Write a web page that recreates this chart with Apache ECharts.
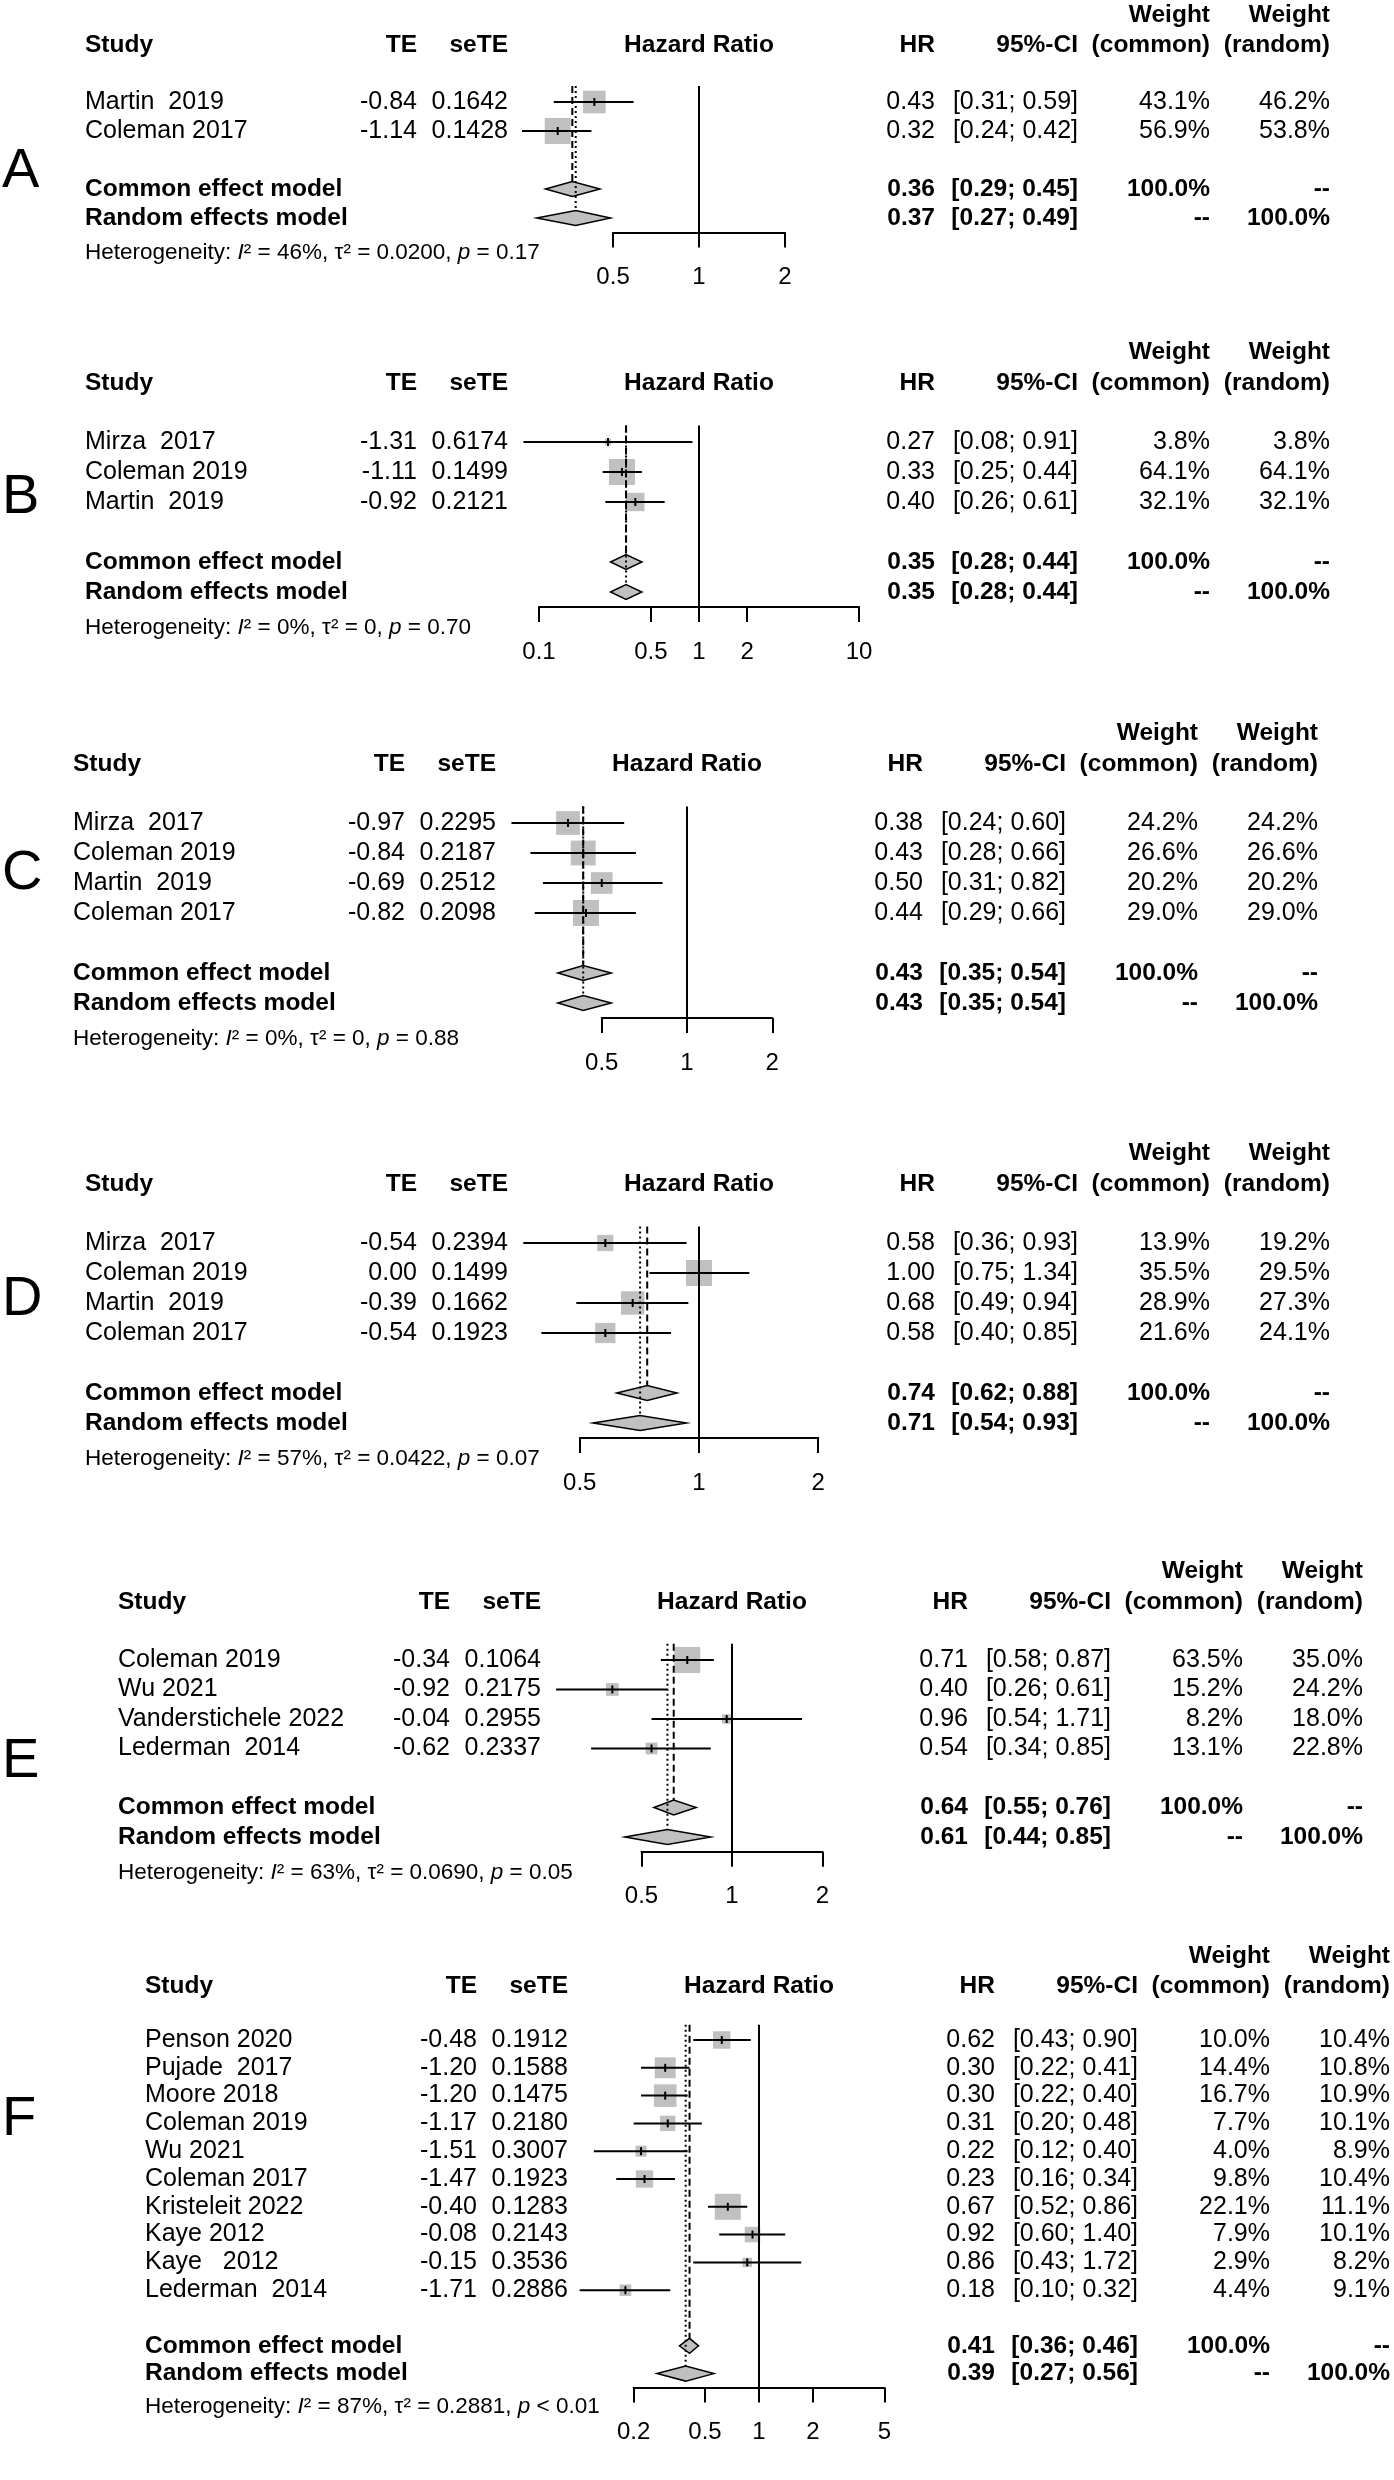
<!DOCTYPE html>
<html><head><meta charset="utf-8">
<script src="https://cdn.jsdelivr.net/npm/echarts@6/dist/echarts.min.js"></script>
<style>html,body{margin:0;padding:0;background:#fff}#c{width:1394px;height:2480px}</style>
</head><body><div id="c"></div>
<script>
// ---------------- DATA ----------------
// Panel A
const A_study = ['Martin  2019', 'Coleman 2017'];
const A_TE = [-0.84, -1.14];
const A_seTE = [0.1642, 0.1428];
const A_HR = [0.43, 0.32];
const A_lo = [0.31, 0.24];
const A_hi = [0.59, 0.42];
const A_wCommon = [43.1, 56.9];
const A_wRandom = [46.2, 53.8];
const A_common = [0.36, 0.29, 0.45];
const A_random = [0.37, 0.27, 0.49];
const A_het = ['46%', '0.0200', '= 0.17'];
const A_ticks = [0.5, 1, 2];
// Panel B
const B_study = ['Mirza  2017', 'Coleman 2019', 'Martin  2019'];
const B_TE = [-1.31, -1.11, -0.92];
const B_seTE = [0.6174, 0.1499, 0.2121];
const B_HR = [0.27, 0.33, 0.40];
const B_lo = [0.08, 0.25, 0.26];
const B_hi = [0.91, 0.44, 0.61];
const B_wCommon = [3.8, 64.1, 32.1];
const B_wRandom = [3.8, 64.1, 32.1];
const B_common = [0.35, 0.28, 0.44];
const B_random = [0.35, 0.28, 0.44];
const B_het = ['0%', '0', '= 0.70'];
const B_ticks = [0.1, 0.5, 1, 2, 10];
// Panel C
const C_study = ['Mirza  2017', 'Coleman 2019', 'Martin  2019', 'Coleman 2017'];
const C_TE = [-0.97, -0.84, -0.69, -0.82];
const C_seTE = [0.2295, 0.2187, 0.2512, 0.2098];
const C_HR = [0.38, 0.43, 0.50, 0.44];
const C_lo = [0.24, 0.28, 0.31, 0.29];
const C_hi = [0.60, 0.66, 0.82, 0.66];
const C_wCommon = [24.2, 26.6, 20.2, 29.0];
const C_wRandom = [24.2, 26.6, 20.2, 29.0];
const C_common = [0.43, 0.35, 0.54];
const C_random = [0.43, 0.35, 0.54];
const C_het = ['0%', '0', '= 0.88'];
const C_ticks = [0.5, 1, 2];
// Panel D
const D_study = ['Mirza  2017', 'Coleman 2019', 'Martin  2019', 'Coleman 2017'];
const D_TE = [-0.54, 0.00, -0.39, -0.54];
const D_seTE = [0.2394, 0.1499, 0.1662, 0.1923];
const D_HR = [0.58, 1.00, 0.68, 0.58];
const D_lo = [0.36, 0.75, 0.49, 0.40];
const D_hi = [0.93, 1.34, 0.94, 0.85];
const D_wCommon = [13.9, 35.5, 28.9, 21.6];
const D_wRandom = [19.2, 29.5, 27.3, 24.1];
const D_common = [0.74, 0.62, 0.88];
const D_random = [0.71, 0.54, 0.93];
const D_het = ['57%', '0.0422', '= 0.07'];
const D_ticks = [0.5, 1, 2];
// Panel E
const E_study = ['Coleman 2019', 'Wu 2021', 'Vanderstichele 2022', 'Lederman  2014'];
const E_TE = [-0.34, -0.92, -0.04, -0.62];
const E_seTE = [0.1064, 0.2175, 0.2955, 0.2337];
const E_HR = [0.71, 0.40, 0.96, 0.54];
const E_lo = [0.58, 0.26, 0.54, 0.34];
const E_hi = [0.87, 0.61, 1.71, 0.85];
const E_wCommon = [63.5, 15.2, 8.2, 13.1];
const E_wRandom = [35.0, 24.2, 18.0, 22.8];
const E_common = [0.64, 0.55, 0.76];
const E_random = [0.61, 0.44, 0.85];
const E_het = ['63%', '0.0690', '= 0.05'];
const E_ticks = [0.5, 1, 2];
// Panel F
const F_study = ['Penson 2020', 'Pujade  2017', 'Moore 2018', 'Coleman 2019', 'Wu 2021',
  'Coleman 2017', 'Kristeleit 2022', 'Kaye 2012', 'Kaye   2012', 'Lederman  2014'];
const F_TE = [-0.48, -1.20, -1.20, -1.17, -1.51, -1.47, -0.40, -0.08, -0.15, -1.71];
const F_seTE = [0.1912, 0.1588, 0.1475, 0.2180, 0.3007, 0.1923, 0.1283, 0.2143, 0.3536, 0.2886];
const F_HR = [0.62, 0.30, 0.30, 0.31, 0.22, 0.23, 0.67, 0.92, 0.86, 0.18];
const F_lo = [0.43, 0.22, 0.22, 0.20, 0.12, 0.16, 0.52, 0.60, 0.43, 0.10];
const F_hi = [0.90, 0.41, 0.40, 0.48, 0.40, 0.34, 0.86, 1.40, 1.72, 0.32];
const F_wCommon = [10.0, 14.4, 16.7, 7.7, 4.0, 9.8, 22.1, 7.9, 2.9, 4.4];
const F_wRandom = [10.4, 10.8, 10.9, 10.1, 8.9, 10.4, 11.1, 10.1, 8.2, 9.1];
const F_common = [0.41, 0.36, 0.46];
const F_random = [0.39, 0.27, 0.56];
const F_het = ['87%', '0.2881', '< 0.01'];
const F_ticks = [0.2, 0.5, 1, 2, 5];

// ---------------- LAYOUT (pixels) ----------------
// x1: pixel of HR = 1, k: pixels per natural-log unit; table columns are offsets from x1
const LAY = {
  A: {row0: 102, rowH: 29, x1: 699, k: 124, letterY: 172},
  B: {row0: 442, rowH: 30, x1: 699, k: 69.5, letterY: 498},
  C: {row0: 823, rowH: 30, x1: 687, k: 123, letterY: 874},
  D: {row0: 1243, rowH: 30, x1: 699, k: 172, letterY: 1300},
  E: {row0: 1660, rowH: 29.5, x1: 732, k: 130.6, letterY: 1762},
  F: {row0: 2040, rowH: 27.8, x1: 759, k: 77.9, letterY: 2120}
};
const COLS = {study: -614, te: -282, se: -191, hr: 236, ci: 379, wc: 511, wr: 631};

const PANELS = [
  {id: 'A', study: A_study, te: A_TE, se: A_seTE, hr: A_HR, lo: A_lo, hi: A_hi, wc: A_wCommon, wr: A_wRandom, common: A_common, random: A_random, het: A_het, ticks: A_ticks},
  {id: 'B', study: B_study, te: B_TE, se: B_seTE, hr: B_HR, lo: B_lo, hi: B_hi, wc: B_wCommon, wr: B_wRandom, common: B_common, random: B_random, het: B_het, ticks: B_ticks},
  {id: 'C', study: C_study, te: C_TE, se: C_seTE, hr: C_HR, lo: C_lo, hi: C_hi, wc: C_wCommon, wr: C_wRandom, common: C_common, random: C_random, het: C_het, ticks: C_ticks},
  {id: 'D', study: D_study, te: D_TE, se: D_seTE, hr: D_HR, lo: D_lo, hi: D_hi, wc: D_wCommon, wr: D_wRandom, common: D_common, random: D_random, het: D_het, ticks: D_ticks},
  {id: 'E', study: E_study, te: E_TE, se: E_seTE, hr: E_HR, lo: E_lo, hi: E_hi, wc: E_wCommon, wr: E_wRandom, common: E_common, random: E_random, het: E_het, ticks: E_ticks},
  {id: 'F', study: F_study, te: F_TE, se: F_seTE, hr: F_HR, lo: F_lo, hi: F_hi, wc: F_wCommon, wr: F_wRandom, common: F_common, random: F_random, het: F_het, ticks: F_ticks}
];

// ---------------- CHART ----------------
const FONT = "'Liberation Sans', Arial, Helvetica, sans-serif";
const FS = 25, FSB = 24.5, FSH = 22.5;
const SQ = 26;            // side of the largest-weight square
const DIA = 7.5;          // diamond half height
const GREY = '#c0c0c0';

const chart = echarts.init(document.getElementById('c'), null, {renderer: 'canvas'});
const grids = [], xAxes = [], yAxes = [], series = [];

function T(x, y, s, align, bold, size) {
  return {type: 'text', x: x, y: y, silent: true, style: {
    text: s, fill: '#000', fontSize: size || (bold ? FSB : FS), fontFamily: FONT,
    fontWeight: bold ? 'bold' : 'normal', align: align, verticalAlign: 'middle'}};
}
const f2 = v => v.toFixed(2);
const ciTxt = (a, b) => '[' + f2(a) + '; ' + f2(b) + ']';

PANELS.forEach((P, gi) => {
  const L = LAY[P.id];
  const X = {};
  Object.keys(COLS).forEach(c => { X[c] = L.x1 + COLS[c]; });
  const n = P.study.length;
  const tMin = P.ticks[0], tMax = P.ticks[P.ticks.length - 1];
  grids.push({
    left: L.x1 + L.k * Math.log(tMin),
    width: L.k * (Math.log(tMax) - Math.log(tMin)),
    top: L.row0 - 0.55 * L.rowH,
    height: (n + 3.05) * L.rowH
  });
  xAxes.push({
    type: 'log', gridIndex: gi, logBase: 10, min: tMin, max: tMax,
    axisLine: {show: true, onZero: false, lineStyle: {color: '#000', width: 2}},
    axisTick: {show: true, length: 15, customValues: P.ticks, lineStyle: {color: '#000', width: 2}},
    axisLabel: {show: true, customValues: P.ticks, margin: 33, fontSize: 24, fontFamily: FONT, color: '#000',
      formatter: v => String(+Number(v).toPrecision(3))},
    splitLine: {show: false}, minorTick: {show: false}
  });
  yAxes.push({type: 'value', gridIndex: gi, min: -0.55, max: n + 2.5, inverse: true, show: false});

  const wmax = Math.max.apply(null, P.wc);

  // squares + confidence intervals
  series.push({
    type: 'custom', coordinateSystem: 'cartesian2d', xAxisIndex: gi, yAxisIndex: gi,
    silent: true, clip: false, z: 2,
    data: P.hr.map((v, i) => [v, i, P.lo[i], P.hi[i], P.wc[i]]),
    renderItem: (params, api) => {
      const c = api.coord([api.value(0), api.value(1)]);
      const a = api.coord([api.value(2), api.value(1)]);
      const b = api.coord([api.value(3), api.value(1)]);
      const s = SQ * Math.sqrt(api.value(4) / wmax);
      return {type: 'group', children: [
        {type: 'rect', shape: {x: c[0] - s / 2, y: c[1] - s / 2, width: s, height: s}, style: {fill: GREY}},
        {type: 'line', shape: {x1: a[0], y1: a[1], x2: b[0], y2: b[1]}, style: {stroke: '#000', lineWidth: 2}},
        {type: 'line', shape: {x1: c[0], y1: c[1] - 4, x2: c[0], y2: c[1] + 4}, style: {stroke: '#000', lineWidth: 2}}
      ]};
    }
  });

  // summary diamonds
  series.push({
    type: 'custom', coordinateSystem: 'cartesian2d', xAxisIndex: gi, yAxisIndex: gi,
    silent: true, clip: false, z: 3,
    data: [[P.common[0], n + 1, P.common[1], P.common[2]], [P.random[0], n + 2, P.random[1], P.random[2]]],
    renderItem: (params, api) => {
      const c = api.coord([api.value(0), api.value(1)]);
      const a = api.coord([api.value(2), api.value(1)]);
      const b = api.coord([api.value(3), api.value(1)]);
      return {type: 'polygon', shape: {points: [[a[0], c[1]], [c[0], c[1] - DIA], [b[0], c[1]], [c[0], c[1] + DIA]]},
        style: {fill: GREY, stroke: '#000', lineWidth: 1.5}};
    }
  });

  // reference lines: no effect (solid), common (dashed), random (dotted)
  series.push({
    type: 'custom', coordinateSystem: 'cartesian2d', xAxisIndex: gi, yAxisIndex: gi,
    silent: true, clip: false, z: 4,
    data: [[1, 0], [P.common[0], 1], [P.random[0], 2]],
    renderItem: (params, api) => {
      const kind = api.value(1);
      const x = api.value(0);
      const top = api.coord([x, -0.55]);
      let bot;
      if (kind === 0) bot = api.coord([x, n + 2.5])[1];
      else if (kind === 1) bot = api.coord([x, n + 1])[1] - DIA;
      else bot = api.coord([x, n + 2])[1] - DIA;
      const dash = kind === 0 ? null : (kind === 1 ? [7, 4] : [2, 3]);
      return {type: 'line', shape: {x1: top[0], y1: top[1], x2: top[0], y2: bot},
        style: {stroke: '#000', lineWidth: 2, lineDash: dash}};
    }
  });

  // table text
  const desc = [];
  desc.push({row: -3, kind: 'weight'});
  desc.push({row: -1.95, kind: 'header'});
  for (let i = 0; i < n; i++) desc.push({row: i, kind: 'study', i: i});
  desc.push({row: n + 1, kind: 'common'});
  desc.push({row: n + 2, kind: 'random'});
  desc.push({row: n + 3.2, kind: 'het'});
  desc.push({row: (L.letterY - L.row0) / L.rowH, kind: 'letter'});
  series.push({
    type: 'custom', coordinateSystem: 'cartesian2d', xAxisIndex: gi, yAxisIndex: gi,
    silent: true, clip: false, z: 5,
    data: desc.map(d => [1, d.row]),
    renderItem: (params, api) => {
      const d = desc[params.dataIndex];
      const p = api.coord([1, api.value(1)]);
      const y = p[1];
      const ch = [];
      if (d.kind === 'weight') {
        ch.push(T(X.wc, y, 'Weight', 'right', true));
        ch.push(T(X.wr, y, 'Weight', 'right', true));
      } else if (d.kind === 'header') {
        ch.push(T(X.study, y, 'Study', 'left', true));
        ch.push(T(X.te, y, 'TE', 'right', true));
        ch.push(T(X.se, y, 'seTE', 'right', true));
        ch.push(T(p[0], y, 'Hazard Ratio', 'center', true));
        ch.push(T(X.hr, y, 'HR', 'right', true));
        ch.push(T(X.ci, y, '95%-CI', 'right', true));
        ch.push(T(X.wc, y, '(common)', 'right', true));
        ch.push(T(X.wr, y, '(random)', 'right', true));
      } else if (d.kind === 'study') {
        const i = d.i;
        ch.push(T(X.study, y, P.study[i], 'left'));
        ch.push(T(X.te, y, f2(P.te[i]), 'right'));
        ch.push(T(X.se, y, P.se[i].toFixed(4), 'right'));
        ch.push(T(X.hr, y, f2(P.hr[i]), 'right'));
        ch.push(T(X.ci, y, ciTxt(P.lo[i], P.hi[i]), 'right'));
        ch.push(T(X.wc, y, P.wc[i].toFixed(1) + '%', 'right'));
        ch.push(T(X.wr, y, P.wr[i].toFixed(1) + '%', 'right'));
      } else if (d.kind === 'common') {
        ch.push(T(X.study, y, 'Common effect model', 'left', true));
        ch.push(T(X.hr, y, f2(P.common[0]), 'right', true));
        ch.push(T(X.ci, y, ciTxt(P.common[1], P.common[2]), 'right', true));
        ch.push(T(X.wc, y, '100.0%', 'right', true));
        ch.push(T(X.wr, y, '--', 'right', true));
      } else if (d.kind === 'random') {
        ch.push(T(X.study, y, 'Random effects model', 'left', true));
        ch.push(T(X.hr, y, f2(P.random[0]), 'right', true));
        ch.push(T(X.ci, y, ciTxt(P.random[1], P.random[2]), 'right', true));
        ch.push(T(X.wc, y, '--', 'right', true));
        ch.push(T(X.wr, y, '100.0%', 'right', true));
      } else if (d.kind === 'het') {
        ch.push({type: 'text', x: X.study, y: y, silent: true, style: {
          text: '{t|Heterogeneity: }{i|I}{t|\u00b2 = ' + P.het[0] + ', \u03c4\u00b2 = ' + P.het[1] + ', }{i|p}{t| ' + P.het[2] + '}',
          align: 'left', verticalAlign: 'middle',
          rich: {
            t: {fontSize: FSH, fontFamily: FONT, fill: '#000'},
            i: {fontSize: FSH, fontFamily: FONT, fontStyle: 'italic', fill: '#000'}
          }}});
      } else if (d.kind === 'letter') {
        ch.push(T(2, y, P.id, 'left', false, 56));
      }
      return {type: 'group', children: ch};
    }
  });
});

chart.setOption({
  animation: false,
  backgroundColor: '#fff',
  grid: grids, xAxis: xAxes, yAxis: yAxes, series: series
});
</script></body></html>
